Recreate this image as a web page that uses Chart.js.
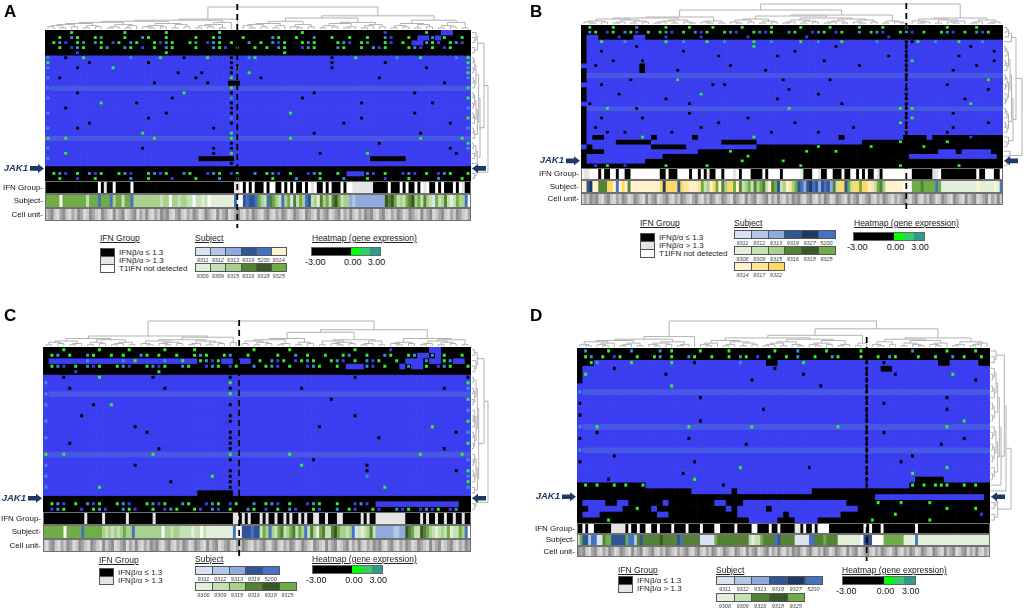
<!DOCTYPE html>
<html>
<head>
<meta charset="utf-8">
<script src="https://cdn.jsdelivr.net/npm/chart.js@4.4.0/dist/chart.umd.min.js"></script>
<style>
  body { margin: 0; width: 1026px; height: 610px; position: relative; overflow: hidden; background: #fff;
         font-family: Arial, "Liberation Sans", sans-serif; }
  .abs { position: absolute; white-space: nowrap; }
  .letter { font-size: 17px; font-weight: bold; color: #000; }
  .ttl { font-size: 8.5px; text-decoration: underline; color: #222; line-height: 10px; }
  .txt { font-size: 8px; color: #222; line-height: 8px; }
  .num { font-size: 5.5px; font-style: italic; color: #444; text-align: center; line-height: 6px; }
  .tick { font-size: 9px; color: #111; line-height: 10px; }
  .sw { border: 1px solid #555; box-sizing: border-box; }
</style>
</head>
<body>
<script>
// heatmap cells. full cells: k black, b blue, l blue stripe
// black cell with a speck: g green, c blue-green, t teal, u blue
// blue cell with a speck: x black, G green, C blue-green; stripe cell with a speck: L green, X black
const heatA = [
  "kkkkgkkkkkkk kgkkkkkkgkkk kkkkkgkkkkkk kkkkkkkgkkkk kkkkkkkkkukk kkkkgkkbbkkk",
  "kkgkcgkkgtkk kgkkcgkkgkkk kgkkgckkkgkk kkcgkkgkkckk gkkgkkgkkcuk kgkbbcbgkkgk",
  "kgcukgtkcgku gkcgkkgucgkk gtkucgkgkkck gkcugkkgcgkk kgcukgtkkguk gkbbcgukgcuk",
  "kkgkucgkkgck kcgkukgkcgkk kgkkcgukgkkg kgkcgkkucgkk kcgkkgkcugkk kgcukgkugkkk",
  "kkkkkukkkkkk kkkkkkkkgkkk kkkkkkkkkkkk kkkkgkkkkkkk kkkkkkkkkkkk kkkkkkkkkkkk",
  "CbbxbbGbbbbb bbCbbbbGbbbx bbbGbbbxbbCG bbbbbbbbbbbb xbbbGbbbbbbC bbbGbbbbbCbG",
  "Gbbbbbbxbbbb bbbbbxbbbbbb bbbbbbbxbbbb bbbbbbbbbbbb xbbbbbbbbxbb bbbbbbbbbbbG",
  "CbbbbxbbbbbG bbbbbbbbbbbb bbbbbbbxGbbb bbbbbbbbbbbb xbbbbbbbbbbb bbbbxbbbbbbC",
  "bbbbbbbbbbbb bbbbbbbbbbxb bbxbbbbxbbGb bbbbbbbbbbbb bbbbbbbbbbbb bbbbbbbbbbbG",
  "Cbxbbbbbbbbb bbbbbbbbbbbb bxbbbbbGbbbb xbbbbbbbbbbb bbbbbbbbxbbb bbbbbbbbbbbC",
  "bbbbbbbbbbbb bbbbbbxbbbbb bbbxbbbkkbbb bbbbbbbbbbbb bbbbbbbbbbbb bbbbbbbxbbbb",
  "Clllllllllll llllllllllll lllllllLllll llllllllllll llllllllllll lllllllllllL",
  "bbbbbxbbbbbb bbbbbbbbbbbG bbbbbbbxbbbb bbbbbbbbbxbb bbbbbbbbbbbb bbxbbbbbbbbb",
  "Cbbbbbbbbbbb bbbbbbbbbxbb bbbbbbbCbbbb bbbbbbbxbbbb bbbbbbbbbbbb bbbbbbbbbbbG",
  "bbbbbbbbbGbb bbbxbbbbbbbb bbbbbbbxbbbb bbbbbbbbbbbb bbbbbxbbbbbb bbbbbxbbbbbb",
  "bbbxbbbbbbbb bbbbbbbbbbbb bbbbbbbxbbbb bbbbbbbbbbbb bbbbbbbbbbbb bbbbbbbbbbbC",
  "Cbbbbbbbbbbb bbbbbbbbxbbb bbbbbbbxbbbb bbbbbGbbbbbb bbbbbbbbbbbb bbxbbbbbbbbb",
  "bbbbbbbbbbbb bbbbbxbbbbbb bbbbbbbCbbbb bbbbbbbbbbbb bbbbbxbbbbbb bbbbbbbbbbbG",
  "bbbbbbbxbbbb bbbbbbbbbbbb bbbbbbbxbbbb bbbbbbbbbbbb bbxbbbbbbbbb bbbbbbbbxbbb",
  "Cbbbbxbbbbbb bbbbbbbbbbbb bbbbxbbbbbbb bbbbbbbbbbbb bbbbbbbbbbbb bbbbbbbbbbbC",
  "bbbbbbbbbbbb bbbbGbbbbbbb bbbbbbbGbbbb bbbbbbbbbxbb bbbbbbbbbbbb bbbxbbbbbbbb",
  "LllLllllllll llllllLlllll lllllllLllll lllllLllllll llllllllllll lllLllllllLl",
  "bbbbbbbbbbbb bbbbbbbbbbbb bbbbbbbxbbbb bbbbbbbbbbbb bbbbbbbbxbbb bbbbbbbbbbbG",
  "Cbbbbbbbbbbb bbbbxbbbbbbb bbbbxbbxbbbb bbbbbbbbbbbb bbbbbbbbbbbb bbbbbbbbxbbC",
  "bbbGbbbbbbbb bbbbbbbbbbbb bbbbxbbGbbbb bbbbbbbbbbxb bbbbbbGbbbbb bbbbbbbbbxbb",
  "Cbbbbbbbbbbb bbbbbbbbbbbb bbkkkkkkbbbb bbbbbbbbbbbb bbbbbbbkkkkk kbbbbbbbbbbb",
  "bbbbbbbbbbbb bbbbbbbbbbbb bbbbbbbxbbbb bbbbbbbbbbbb bbbbbbbbbbbb bbbbbbbbbbbb",
  "kkkkkkkkkkkk kkkkkkkkkkkk kkkkkkkkkkkk kkkkkkkkkkkk kkkkkkkkkkkk kkkkkkkkkkkk",
  "kgcukgkcugkk gcukkgcugkkc gkkucgkugkkc kgcukgkkucgk kgkbbbcukgkk ucukgkucgkkg",
  "kkgkkukkgkkk kkckkgkkkukk kgkkkckkgkkk kkgkkkckkkgk kkckkkgkkukk kgkkkkckkkgk"
];
const heatB = [
  "kgkkkgkkkckk kkgkkkgkkkgk kkkgkkkkgkkk kgkkkkgkkkkg kkkgkkkgkkkk kkgkkkkgkkkk",
  "kcgkugkcgukg kgcukgkcugkk gcukkgcugkkc gkkucgkugkkc kgcukkgcukgk kgcukgkcugkk",
  "kbbkkkukkbbk kkukkkkkukkk kkkkukkkkkkk kkukkkkkkkkk kkkkukkkkkkk kkkkkkkkkkkk",
  "kbbGbbbCbbbb bbGbbCbbbGbb CbbbbGbbCbbb bGbbCbbbGbbb bbCbbbbxxGbb CbbbGbbbCbbb",
  "kbbbbbbbbxbb bbbbbbbbbbbb bbbbbGbbbbbb bbbbbbbxbbbb bbbbbbbxbbbb bbbbbbxbbbbb",
  "kbbxbbbbbbbb bbbbbxbbbbbb bbbbbbbbbbbb xbbbbbbbbbbb bbbbbbbxbbbb bbbbbbbbbbxb",
  "kbbbbbbbbbbb bbbbbbbbbbbx bbbbbbbbbxbb bbbbbbbbbbbb bbbbxbbxbbbb bbbbxbbbbbbb",
  "kbbbbxbbbbxb bbbbbbbbbbbb bbbbbbbbbbbb bbbbbxbbbbbb bbbbbbbxGbbb bbbbbbbbbbxb",
  "bbxbbbbbbbkb bbbbbbbbbbbb bxbbbbbbbbbb bbbbbbbbbbbx bbbbbbbxbbbb bbbbbbbxbbbb",
  "kbbbbbbbbbkb bbbbxbbbbbbb bbbbbbbxbbbb bbbbbbbbbbbb bbbbbbbxbbbb bbbxbbbbbbbb",
  "klllllllllll llllllllllll llllllllllll llllllllllll lllllllXllll llllllllllll",
  "kbbbbbbbxbbb bbbbGbbbbbbb bbbbbbbbbbxb bbbbbbxbbbbb bbbbbbbxbbbb bbbbbbbbbGbb",
  "bbbxbbbbbbbb bbbbbbbbbbxb xbbbbbbbbbbb bbbbbbbbbbbb bbbbbbbbbbbb bbxbbbbbbbbb",
  "kbbbbbbbbbbb bbbbbbbbbbbb bbbbbbbbbbbx bbbbbbbbbbbb bbbbbbbxbbbb bbbbbbbbbxbb",
  "kbbbbbxbbbbb bbbbbbbbGbbb bbbbbbbbbbbb bbbbxbbbbbbb bbbbbbbxbbbb bbbbbbbbbbbb",
  "kbbbbbbbbbbb bbxbbbbbbbbb bbbbbbbbbxbb bbbbbbbbbbbb bbbbbbbxbbbb bbbbbxbbbbbb",
  "bxbbbbbbbbbb bbbbbbxbbbbb bbbbbbbbbbbb bbbbbbbbxbbb bbbbbbbxbbbb bbbbbbGbbbbb",
  "klllLllllXll llllllllllll lllllllllllL llllllllllll llllllLXLlll llllllllllll",
  "kbbbbbbbbbbb bbbbbbxbbbbb bbbbbbbbbbbb bbbbbbbbbbbb bbbbbbbxbbbb bbbxbbbbbbbb",
  "kbbxbbbbbbxb bbbbbbbbbbbb bbbbxbbbbbbb bbbbbbbbbbbb bbbbbbbxGbbb bbbbbbbbbbbb",
  "kbbbbbbbbbbb bbbbbbbbbbbx bbbbbbbbbbbb xbbbbbbbbbbb bbbbbbGxbbbb bbbbbbbbbxbb",
  "kbxbbbbbbbbb bbbbbbbbxbbb bbbbbbbbbbbb bbbbbbbbbbxb bbbbbbbxbbbb bbbxbbbbbbbb",
  "kbbbxbbxbbbb bbbxbbbbbbbb bbbbbbbbxbbb bbbbxbbbbbbb bbbbbbbxbbbb bbxbbbbbbbbb",
  "kbkkbbbbbbGb kbbbbbbkbbbb bbbbbGbbbbbb bbbbbbbbkbbb bbbbbbbkkkkb kkkkkkukkkkk",
  "kbbbbbkkkkkk bbbbbbbbbbbb kkkkkkbbbbbb bbbbbbbbbbbb kkkkkkgkkkkk kkgkkkkkkkkk",
  "bkbbbbbbbbbb kkkkkkbbbbbb bbbbbbkkkkkk kkkkgkkkkkkk kgkkkkkkkkgk kkkkkkkkkkkk",
  "kkkkbbbbbbbb bbbbbbbbkkkk kgkkkkkkkkkk kkgkkkkgkkkk kkkkkkkkkkkk kbbbkbbbbbkk",
  "kbbbbbbbbbbb bbkkkkkkkkkk kkkkgkkkkkkk kkkkkkkkkkkk kkkkkkkkbbbb bbbbbbbbbbbk",
  "kbbbbbbbbbbk kkkkkkkkkkkk kkkgkkkkkkgk kkkkkkkkkkkk kkkkkkkkkkkk kkkkkkkkkkkk",
  "kkukgkkukkkk kkgkkkkkkgkk kkkkkkkkkkkk kgkkkkkkkkkk kkkkkkgkkkkk kkkkgkkkkkkk"
];
const heatC = [
  "kkkgkkkkkgkk kkgkkkkkgkkk kgkkkkkkkkkg kkkkkgkkkkkk kkkkgkkkkkuk kkkkkbbkkkkk",
  "kgckgkkcgkkg kgkkcgkgkkgk kgcgkkgckkgk kkkgkkckgkkg kkgckkgkkcgk kgcbbcbgkkgk",
  "kbbbbbbCbbbb bCbGbbbbCbbG bbgcugbbkbbk gkcugkugcgkk gcukgkcugkkg kbbbcbbgcbbk",
  "kgcukgkcugkk gcukkgcugkkc gkkucgkugkkc kgcukgkkucgk kgkbbbcukgkk bcbbgkucgkkg",
  "kkkkkukkkkkk kkkkkkkgkkkk kkkkkkkkkkkk kkkkkkkkkkkk kkkkkkkkkkkk kkkkkkkkkkkk",
  "bbbxbbbbbGbb bbbbbbxbbbbb bbbbbbbxbbbb bbbbbbbbbbbb bbbbxbbbbbbb bbbbbbbbbbbx",
  "Cbbbbbbbbbbb bbbbbbbbbbbb bbbbbbbGbbbb bbbbbbbbbbbb bbbbbbbbbbbb bbbbbbbbbbbG",
  "bbbbxbbbbbbb bbbbbbbbxbbb bbbbbbbxbbbb bbbbbbbxbbbb bbbbbbbbbbbb bbbbbbbxbbbC",
  "Clllllllllll llllllllllll lllllllLllll llllllllllll llllllllllll llllllllllll",
  "bbbbbbbbbbbb bbbbbbbbbbbb bbbbbbbbbbbb bbbbbbbbbbbb xbbbbbbbbbbb bbbbbbbbbbbG",
  "CbbbbbbbxbbG bbbbbbbbbbbb bbbbbbbxbbbb bbbbbbbbbbbb bbbbbbbbbbbb bbbbbbbbbbbb",
  "bbbbbbbbbbbb bbbbbbbbbbbb bbbbbbbbbbbb bbbbbbbbbbbb bbbbbbbbbbbb bbbbbbbbbbbC",
  "bbbbbbxbbbbb bbbbbbbbbbbb bbbbbbbxbbbb bbbbbbbbbbbb bbbbxbbbbbbb bbbbbbbbbbbb",
  "Cbbbbbbbbbbb bbbbbbbbbbbb bbbbbbbxbbbb bbbbbbbbbbbb bbbbbbbbbbbb bbbbbbbbbbbG",
  "bbbbbbbbbbbb bbbxbbbbbbbb bbbbbbbbbbbb bbbbbbbbbbxb bbbbbbbbbbbb bbbbbGbbbbbb",
  "bbbbbbbbbbbb bbbbbxbbbbbb bbbbbbbxbbbb bbbbbbbbbbbb bbbbbbbbbbbb bbbbbbbbbxbC",
  "Cbbbbbbbbbbb bbbbbbbbbbbb bbbbbbbxbbbb bbbbbbbbbbbb bbbbbbbbxbbb bbbbbbbbbbbb",
  "bbbbxbbbbbbb bbbbbbbbbbbb bbbbbbbxbbbb bbbbbbbbbbbb bbbbbbbbbbbb bbbbbbbbbbbG",
  "bbbbbbbbbbbb bbbbbbbxbbbb bbbbbbbxbbbb bbbbbbbbbbbb bbbbbbbbbbbb bbbbbbbxbbbb",
  "LllLllllllll llllllLlllll lllllllLllll lllllLllllll llllllllllll lllLllllllLl",
  "bbbbbbbbbbbb bbbbbbbbbbbb bbbbbbbxbbbb bbbbbbbbbxbb bbbbbbbbbbbb bbbbbbbbbbbC",
  "Cbbbbbbbbbbb bbbxbbbbbbbb bbbbbbbbbbbb bbbbbbbGbbbb bbbbbbxbbbbb bbbbbbbbbbbb",
  "bbbbbbbbbbbb bbbbbbbbbbbb bbbbbbbxbbbb bbbbbbbbbbbb bbbbbbxbbbbb bbbbbbbbbxbG",
  "Cbbbbbbbbbbb bbbbbbbbbbbb bbbbGbbxbbbb bbbbbbbbbbbb bbbbbbCbbbbb bbbbbbbbbbbC",
  "bbbbbbbbbbbb bbbbbbbbbxbb bbbbbbbxbbbb bbbbbbbbbbbb bbbbbbbbbbbb bbbbbbbbbbbG",
  "CbbbbbbbbGbb bbbbbbbbbbbb bbbbbbbxbbbb bbbbbbbbbbbb bbbbbbbbbGbb bbbbbbbbbbbC",
  "bbbbbbbbbbbb bbbbbbbbbbbb bbkkkkkkbbbb bbbbbbbbbbbb bbbbbbbbbbbb bbbbbbbbbbbb",
  "kkkkkkkkkkkk kkkkkkkkkkkk kkkkkkkkkkkk kkkkkkkkkkkk kkkkkkkkkkkk kkkkkkkkkkkk",
  "kgcukgkcugkk gcukkgcugkkc gkkucgkugkkc kgcukgkkucgk kgkkucukbbbb bbbbbbbbbbkk",
  "kucgkkukgcuk kcgukkgkucgk kgukcukgkkcg kukgkcukkguk kckgukkgukkc ugkucugkuckk"
];
const heatD = [
  "kckkkgkkkckk kkckgkkkkgkk kkgkkkkkkkgk kkckkkkgkkkk kgkkkkkkkkck kkkkgkkkkgkk",
  "kgckgkugkkgk kgckgkkcgkkg kkgkcgkukgkk gkckkgkkcgkk kgkkgkcgkkkg kkgkkckgkkgk",
  "kkgCbbbbbGbb bbbbGbbbxbbb bbbbCbbbbkkb bbbGbbbbbbbb bbxbbxbbbbbb bbbkkbbbbbkk",
  "kbbbbbxbbbbb bbbbbbbbbbbb bbbbbbbbbbxb bbbbbbbbbbbb bbxbbkkbbbbb bbbbbbbbbbbb",
  "kGbbbbbbbbbb bbbxbbbbbbbb bbbbbbbbbbbb bbbxbbbbbbbb bbxbbbbxbbbb bbbbbGbbbbbb",
  "kbbbbbbbbbbb bbbbbbbbbbbb bbbbbbxbbbbb bbbbbbbbbbbb bbxbbbbbbbbb bbbbbbbbbxbb",
  "bbbbbbbbbbbb bbbbGbbbbbbb bbbbbbbbbbbb bbbbbbxbbbbb bbxbbbbbbbbb bbbbbbbbbbbb",
  "Clllllllllll llllllllllll llllllllllll llllllllllll llXlllllllll llllllllllll",
  "bbbbbbbbbbbb bbbbbbbbbxbb bbbbbbbbbbbb bbbbbbbbbbbb bbxbbbbbbbbb bbbbxbbbbbbb",
  "xbbbbbbbbbbb bbbbbbbbbbbb bbbbbbbbbbbb bbbbbbbbbbbb bbxbbxbbbbbb bbbbbbbbbbbb",
  "bbbbbbbbbbbb bbbbbbbbbbbb bbbbbbbbxbbb bbbbbbbbbbbb bbxbbbbbbbbb bbbbxbbbbbbb",
  "xbbbbbbbbbbb bbbbbbbbbbbb bbbbbbbbbbbb bbbbbbbbbbbb bbxbbbbbbbbb bbbbbbbbbbbb",
  "bbbbbbbbbbbb bbbbbbbbbxbb bbbbbbbbbbbb bbbbbbbbbbbb bbxbbbbbbbbb bbbbbbbGbbbb",
  "CllLllllllll lllllllLllll llllllLlllll lllllllllLll llXlllllllll llllLlllllll",
  "bbbxbbbbbbbb bbbbbbbbbbbb bbbbbbbbbbbb bbbbbbbbbbbb bbxbbxbbbbbb bbbbbbbbbbbb",
  "xbbbbbbbbbbb bbbbbbbxbbbb bbbbbbbbbbbb bbbbbbbbbbbb bbxbbbbbbbbb bbbbbbbxbbbb",
  "bbbbbbbbbbbb bbbbbbbbbbbb bbbbbxbbbbbb bbbbbbbbbbbb bbxbbbbbbbbb bbbxbbbbbbbb",
  "Clllllllllll llllllllllll llllllllllll llllllllllll llXlllllllll llllllllllll",
  "bbbbbbxbbbbb bbbbbbbbbbbb bbbbbbbbbbbb bbbbbbbbbbbb bbxbbbbbbbxb bbbbbbbbbbbb",
  "xbbbbbbbbbbb bbbbbbbbxbbb bbbbbbbbbbbb bbbbbbbbbbbb bbxbbbbbxbbb bbbbbbbbbbbb",
  "bbbbbbbbbbbb bbbbbbbbbbbb bbbbGbbbbbbb bbbbxbbbbbbb bbxbbbbbbbbb bbbbGbbbbbbb",
  "bbbbbbbbbbbb bbbbbbxbbbbb bbbbbbbbbbbb bbbbbbbbbbbb bbxbbbbbbbGb bbbbbbbbbbbb",
  "bbbbbxbbbbbb bbbbbbbbGbbb bbbbbbbbbbbb bbbbbbbbbbbb bbxbbbbbbbbk kkkkbbbbbbbb",
  "kgkgkkgkgkkg bbbbbbbbbbbb bxbbbbbbbbbb bbbbbbbbbbbb bbxbbbbbbbgk gkgggkkgkgkk",
  "kkkkkkkkkkkk kkkkkkkkbbbb bbbkbbbbbbbb bbbbbkkkkkkk kkkkkkkkkkkk kkkkkkkkkkkk",
  "kkkkkkkkkkkk kkkkkkkkkkkk kkkkkkkkkkkk kkkkkkkkkkkk kkkkbbbbbbbb bbbbbbbbbbbk",
  "kbbbbkkbbkkk kkkbkkkkkkkk bbkkkbbbbbbb bbbbbbbbbbbk kkkkgkkkgkkk kgkkkkkkkkkk",
  "kkbbbbbbkkgk kbkkkkkkkkkk kkbkbbbbbkbb bbbbbbbbbbbb bkkkkkkkkkkk kkkkgkkkkgkk",
  "kbbbkkkkkkkk kkbbkkkkkkkk kkkkbbbbbbbb kbbbbbbbbbkk kkkkkkkgkkkk kkkkkkkkkkuk",
  "kkkkkgkkkkkk kkkkkkkkkkkk kkkkkkbbbbbk kkbbbbkkkkkk kkkgkkkkkkkk kgkkkkkkkkkk"
];

// annotation rows: IFN group (k / l / w), subject (letter code), cell unit (grey shade)
const ifnA  = "kkkkkkkkkkkk kkkkkkwklkkw kkkkkwkkkkkk kkkkkkkkkkkk kkkkkkkkkkkk kkkkllwkwkwk kkwkwwkkwkwk wkkwkwlwkkwk wkkkwkwwllll lllkkkkkwkkk wkwkkwkwlwkk wkwkkkwkwlkk";
const subjA = "pppppwpppppp pphpppepppei pphppeiiiiii iiihiiwiihii hhwhhfhwffff ffffewwdedde pihejpiheipa jhpiedhifjip hjmphiicbccc cccccccmjmph ihpjmiphjiha phijhfhpiiew";
const cellA = "213241324123 142312431243 213421341232 412313241324 123142312432 134213241231 241324123142 312431243213 421341232412 313241324123 142312432134 213241231241";
const ifnB  = "wllwwwkwkkww kwwkkwwwwwww wwwkkwkkkwww wkwwkwklkkww kwwwlwkwwwkk kkwkwwwwkwww wwwlkkkwwlkk wwkkkwkkwwkw kwkkwlkwwwww wwwwwkkkkkkk llwkkkkkkkkk kkkwkkwwwkkw";
const subjB = "yydnyyjjjrry eyryjyyyyyyy yyyrnrrrrdrq qyyyqphiyrpy jirrpyjhiphj ipjhyjpdhiyq ipdecdnedcde dcjhrrdphrrp rryqhpjiyyyy yywwwpppjppp pepfffffffff fffyfffffyfe";
const cellB = "412313241324 123142312432 134213241231 241324123142 312431243213 421341232412 313241324123 142312432134 213241231241 213241324123 142312431243 213421341232";
const ifnC  = "kkkkkkkkkkkk kklkkkkklkkk kkkklkkkkkkk klkkkkkkkkkk kkkkkkkkkkkk kkkkllklklkk klklkklkklkl kklklkkllkkl kkkllkkkkkkl klkkllllllll llkkkkklklkk lkklkklkklkk";
const subjC = "pppppppwpppp peppppppihih ihipiieiiiii iiiiwiihiihh hhfhhwhfffff ffffewwddded dhpieihpjhip jhpiehjifpjh hjmpiihieahf hijhccccccbb ccmjphhmjpih fhihpfhhpiew";
const cellC = "241324123142 312431243213 421341232412 313241324123 142312432134 213241231241 213241324123 142312431243 213421341232 412313241324 123142312432 134213241231";
const ifnD  = "kkwkwwkkkkkk lllllkwkkwkk wwkkwkkkkwkk kkwkkkkwkkkk wwkkkkkwkkkk kwwkkkkwkkwk kkkkllkwkkwk wwwwkkkkkkkk kkkkwkwkkkwk kkkkkkkkkkwk kkkkkkkkkkkk kkkkkkkkkkkk";
const subjD = "apddbeeaajpp dddddpeebjdj jjjjjmjjjjjd ejjjjjjaaaaa pjjjjjjjjjjj hfhhpjjjjedj jjjjaaaaaeej jjpjjjjfffff fffwdndwwwwp ppppppffffef ffffffffffff ffffffffffff";
const cellD = "313241324123 142312432134 213241231241 213241324123 142312431243 213421341232 412313241324 123142312432 134213241231 241324123142 312431243213 421341232412";

// dendrogram merge heights between neighbouring columns / rows
const colGapsA = [2,3,1,4,2,5,1,3,2,6, 1,2,4,1,3,7,2,1,3,2, 5,1,4,2,8,1,3,2,4,1, 6,9, 20, 3,1,4,2,5,1,3,7,2,1, 4,2,10,1,3,2,5,1,2,6, 1,3,4,2,12,1,3,2,5,1, 4,2,8,1,3,2,6,1];
const colGapsB = [2,1,3,2,5,1,2,4,1,3, 2,6,1,2,3,1,4,2,1,7, 2,1,3,1,14,2,1,4,2,5, 1,3,2,8,1,2,4,1,3,2, 6,1,2,3,1,5,2,1,4,2, 9,1,3,2,1, 20, 3,1,2,5,1,4,2,1,3,6, 1,2,4,1,2];
const colGapsC = [1,3,2,4,1,2,6,1,3,2, 5,1,2,3,1,8,2,1,4,2, 1,3,2,5,1,2,4,1,3,2, 7,3, 20, 2,4,1,3,2,5,1,2,6,1, 3,2,11,1,4,2,1,3,2,5, 1,2,4,1,13,2,1,3,2,6, 1,2,4,1,3,2,5,1];
const colGapsD = [2,1,4,2,1,3,5,1,2,3, 1,6,2,1,3,2,4,1,2,8, 20, 2,1,3,5,1,2,4,1,3,2, 7,1,2,3,1,4,2,1,6,2, 1,3,2,5,1,2,9,1,3, 14, 2,1,4,2,6,1,3,2,1,5, 2,1,3,7,1,2,4,1,2,3];
const rowGapsA = [3,2,4,2,9,1,2,1,3,1, 2,5,1,2,1,3,1,2,4,1, 2,6,1,3,2,4,12,3,2];
const rowGapsB = [2,3,5,8,1,2,3,1,2,4, 1,2,1,3,2,1,5,1,2,3, 1,2,6,3,2,12,4,3,2];
const rowGapsC = [2,4,3,2,9,1,3,1,2,1, 4,2,1,2,3,1,2,1,5,2, 1,3,1,2,4,2,12,3,2];
const rowGapsD = [3,2,8,2,1,3,1,2,4,1, 2,1,5,2,1,3,1,2,1,4, 2,1,6,9,12,3,2,4,2];

const jakLabel = "JAK1";
const jakRowA = 27, jakRowB = 28, jakRowC = 27, jakRowD = 25;
const splitA = 65, splitB = 111, splitC = 66, splitD = 101;   // first cell of right-hand cluster
const annNames = ["IFN Group-", "Subject-", "Cell unit-"];

const ifnLegend3 = [["k", "IFNβ/α ≤ 1.3"], ["l", "IFNβ/α > 1.3"], ["w", "T1IFN not detected"]];
const ifnLegend2 = [["k", "IFNβ/α ≤ 1.3"], ["l", "IFNβ/α > 1.3"]];
const subjLegendA = [["9311","9312","9313","9319","5200","9314"], ["9306","9309","9315","9316","9318","9325"]];
const subjLegendB = [["9311","9312","9313","9319","9327","5200"], ["9306","9309","9315","9316","9318","9325"], ["9314","9317","9322"]];
const subjLegendC = [["9311","9312","9313","9319","5200"], ["9306","9309","9315","9316","9318","9325"]];
const subjLegendD = [["9311","9312","9313","9319","9327","5200"], ["9306","9309","9316","9318","9325"]];
const heatTicks = ["-3.00", "0.00", "3.00"];

// colours
const BLUE = "#3b3ef0", STRIPE = "#4658e4", GREEN = "#33ee33", CYAN = "#3a90d2", TEAL = "#2a9d80";
const cellCodes = {
  k: ["#000000", null], b: [BLUE, null], l: [STRIPE, null],
  g: ["#000000", GREEN], c: ["#000000", CYAN], t: ["#000000", TEAL], u: ["#000000", BLUE],
  x: [BLUE, "#000000"], G: [BLUE, GREEN], C: [BLUE, CYAN], L: [STRIPE, GREEN], X: [STRIPE, "#000000"]
};
const ifnColors = { k: "#000000", l: "#e4e4e4", w: "#ffffff" };
const subjCode = { a: "9311", b: "9312", c: "9313", d: "9319", n: "9327", e: "5200", y: "9314", q: "9317", r: "9322",
                   f: "9306", h: "9309", i: "9315", j: "9316", m: "9318", p: "9325" };
const subjColors = { "9311": "#dae3f3", "9312": "#b4c7e7", "9313": "#8faadc", "9319": "#2f5597", "9327": "#203864",
                     "5200": "#4472c4", "9314": "#fff2cc", "9317": "#ffe699", "9322": "#ffd966", "9306": "#e2f0d9",
                     "9309": "#c5e0b4", "9315": "#a9d18e", "9316": "#548235", "9318": "#385723", "9325": "#70ad47" };
const cellColors = { "1": "#a8a8a8", "2": "#c9c9c9", "3": "#8e8e8e", "4": "#dadada" };
const heatLegendColors = [["#000000", 0.57], ["#00ff00", 0.14], ["#33cc66", 0.14], ["#2e9c8a", 0.15]];

Chart.defaults.font.family = 'Arial, "Liberation Sans", sans-serif';

function tree(ctx, gaps, lo, hi, pos, lev, vertical) {
  if (lo === hi) return { p: pos(lo), h: 0 };
  let m = lo;
  for (let i = lo; i < hi; i++) if (gaps[i] > gaps[m]) m = i;
  const L = tree(ctx, gaps, lo, m, pos, lev, vertical);
  const R = tree(ctx, gaps, m + 1, hi, pos, lev, vertical);
  const h = gaps[m];
  ctx.beginPath();
  if (!vertical) {
    ctx.moveTo(L.p, lev(L.h)); ctx.lineTo(L.p, lev(h)); ctx.lineTo(R.p, lev(h)); ctx.lineTo(R.p, lev(R.h));
  } else {
    ctx.moveTo(lev(L.h), L.p); ctx.lineTo(lev(h), L.p); ctx.lineTo(lev(h), R.p); ctx.lineTo(lev(R.h), R.p);
  }
  ctx.stroke();
  return { p: (L.p + R.p) / 2, h: h };
}

function arrow(ctx, xTip, y, dir) {
  const x0 = xTip - dir * 14, xh = xTip - dir * 6;
  ctx.beginPath();
  ctx.moveTo(x0, y - 2.3); ctx.lineTo(xh, y - 2.3); ctx.lineTo(xh, y - 4.5); ctx.lineTo(xTip, y);
  ctx.lineTo(xh, y + 4.5); ctx.lineTo(xh, y + 2.3); ctx.lineTo(x0, y + 2.3);
  ctx.closePath(); ctx.fill();
}

// dendrograms, split line, JAK1 markers and strip borders
const deco = {
  id: 'deco',
  afterDraw(chart, args, o) {
    const ctx = chart.ctx, a = chart.chartArea;
    const sx = chart.scales.x, sx2 = chart.scales.x2, sy = chart.scales.y;
    ctx.save();
    ctx.strokeStyle = '#707070'; ctx.lineWidth = 1;
    for (let k = 0; k < 3; k++) {
      const y0 = Math.round(sy.getPixelForValue(o.rows + k * o.annU));
      const y1 = Math.round(sy.getPixelForValue(o.rows + (k + 1) * o.annU));
      ctx.strokeRect(a.left + 0.5, y0 + 0.5, a.right - a.left - 1, y1 - y0 - 1);
    }
    ctx.strokeStyle = '#b2b2b2'; ctx.lineWidth = 1;
    const gmax = Math.max(...o.colGaps);
    tree(ctx, o.colGaps, 0, o.colGaps.length, i => sx.getPixelForValue(i),
         h => a.top - 1 - h / gmax * o.dendH, false);
    const rmax = Math.max(...o.rowGaps);
    tree(ctx, o.rowGaps, 0, o.rowGaps.length, i => sy.getPixelForValue(i + 0.5),
         h => a.right + 1 + h / rmax * o.dendW, true);

    const xs = (sx2.getPixelForValue(o.split - 1) + sx2.getPixelForValue(o.split)) / 2;
    ctx.strokeStyle = '#000'; ctx.lineWidth = 1.8; ctx.setLineDash([6, 4]);
    ctx.beginPath(); ctx.moveTo(xs, o.dash[0]); ctx.lineTo(xs, o.dash[1]); ctx.stroke();
    ctx.setLineDash([]);

    const yj = sy.getPixelForValue(o.jak + 0.5);
    ctx.fillStyle = '#1f3864';
    arrow(ctx, a.left - 1, yj, 1);
    arrow(ctx, a.right + 1, yj, -1);
    ctx.font = 'italic bold 9.5px Arial, "Liberation Sans", sans-serif';
    ctx.textAlign = 'right'; ctx.textBaseline = 'middle';
    ctx.fillText(jakLabel, a.left - 17, yj);
    ctx.restore();
  }
};

function addDiv(cls, css, text) {
  const d = document.createElement('div');
  d.className = 'abs ' + cls;
  d.style.cssText = css;
  if (text) d.textContent = text;
  document.body.appendChild(d);
  return d;
}

function makePanel(p) {
  const wrap = document.createElement('div');
  wrap.style.cssText = `position:absolute;left:${p.box[0]}px;top:${p.box[1]}px;width:${p.box[2]}px;height:${p.box[3]}px`;
  const cv = document.createElement('canvas');
  wrap.appendChild(cv);
  document.body.appendChild(wrap);

  const heat = p.heat.map(r => r.replace(/ /g, ''));
  const ann = [p.ifn, p.subj, p.cell].map(r => r.replace(/ /g, ''));
  const R = heat.length;
  const heatPx = p.area.bottom - p.annPx - p.area.top;
  const annU = (p.annPx / 3) / (heatPx / R);
  const annColor = [ch => ifnColors[ch], ch => subjColors[subjCode[ch]] || '#ffffff', ch => cellColors[ch]];

  const datasets = [];
  heat.forEach((row, r) => {
    datasets.push({
      xAxisID: 'x', order: 1, data: Array.from(row, () => [r, r + 1]),
      backgroundColor: Array.from(row, ch => cellCodes[ch][0])
    });
    datasets.push({
      xAxisID: 'x', order: 0, barPercentage: 0.5,
      data: Array.from(row, ch => cellCodes[ch][1] ? [r + 0.22, r + 0.78] : null),
      backgroundColor: Array.from(row, ch => cellCodes[ch][1] || 'rgba(0,0,0,0)')
    });
  });
  ann.forEach((row, k) => datasets.push({
    xAxisID: 'x2', order: 1, data: Array.from(row, () => [R + k * annU, R + (k + 1) * annU]),
    backgroundColor: Array.from(row, annColor[k])
  }));

  new Chart(cv, {
    type: 'bar',
    data: { datasets: datasets },
    options: {
      responsive: true, maintainAspectRatio: false, animation: false, events: [],
      layout: { padding: {
        left: 0, right: p.box[2] - (p.area.right - p.box[0]),
        top: p.area.top - p.box[1], bottom: p.box[3] - (p.area.bottom - p.box[1]) } },
      datasets: { bar: { barPercentage: 1, categoryPercentage: 1, grouped: false, borderWidth: 0 } },
      plugins: {
        legend: { display: false }, tooltip: { enabled: false },
        deco: { rows: R, annU: annU, colGaps: p.colGaps, rowGaps: p.rowGaps, split: p.split, jak: p.jak,
                dendH: p.dendH, dendW: p.dendW, dash: [p.dash[0] - p.box[1], p.dash[1] - p.box[1]] }
      },
      scales: {
        x: { type: 'category', labels: Array.from(heat[0], (_, i) => String(i)), display: false, offset: true },
        x2: { type: 'category', labels: Array.from(ann[0], (_, i) => String(i)), display: false, offset: true },
        y: {
          type: 'linear', reverse: true, min: 0, max: R + 3 * annU,
          grid: { display: false, drawTicks: false }, border: { display: false },
          afterBuildTicks: s => { s.ticks = [0, 1, 2].map(k => ({ value: R + (k + 0.5) * annU })); },
          afterFit: s => { s.width = p.area.left - p.box[0]; },
          ticks: { autoSkip: false, padding: 2, color: '#111', font: { size: 8 },
                   callback: (v, i) => annNames[i] }
        }
      }
    },
    plugins: [deco]
  });

  // legends
  addDiv('letter', `left:${p.letter[0]}px;top:${p.letter[1]}px`, p.name);
  const L = p.legend;
  addDiv('ttl', `left:${L.ifn[0]}px;top:${L.ifn[1]}px`, 'IFN Group');
  L.ifnItems.forEach((it, i) => {
    const y = L.ifn[2] + i * 8;
    addDiv('sw', `left:${L.ifn[0]}px;top:${y}px;width:15px;height:9px;background:${ifnColors[it[0]]}`);
    addDiv('txt', `left:${L.ifn[0] + 19}px;top:${y + 1}px`, it[1]);
  });
  addDiv('ttl', `left:${L.subj[0]}px;top:${L.subj[1]}px`, 'Subject');
  L.subjRows.forEach((row, r) => {
    row.forEach((id, i) => {
      const x = L.subj[0] + i * L.subjW, y = L.subjY[r];
      addDiv('sw', `left:${x}px;top:${y}px;width:${L.subjW + 1}px;height:9px;background:${subjColors[id]}`);
      addDiv('num', `left:${x}px;top:${y + 10}px;width:${L.subjW}px`, id);
    });
  });
  addDiv('ttl', `left:${L.heat[0]}px;top:${L.heat[1]}px`, 'Heatmap (gene expression)');
  const bar = addDiv('sw', `left:${L.bar[0]}px;top:${L.bar[1]}px;width:${L.bar[2]}px;height:9px;display:flex;border-color:#666`);
  heatLegendColors.forEach(c => {
    const s = document.createElement('div');
    s.style.cssText = `flex:${c[1]};background:${c[0]}`;
    bar.appendChild(s);
  });
  [-6, 0.47 * L.bar[2], 0.81 * L.bar[2]].forEach((dx, i) =>
    addDiv('tick', `left:${L.bar[0] + dx}px;top:${L.bar[1] + 10}px`, heatTicks[i]));
}

const panels = [
  { name: 'A', letter: [4, 2], box: [0, 0, 510, 232], area: { left: 45, right: 471, top: 30, bottom: 221 }, annPx: 40,
    heat: heatA, ifn: ifnA, subj: subjA, cell: cellA, colGaps: colGapsA, rowGaps: rowGapsA,
    split: splitA, jak: jakRowA, dendH: 22, dendW: 16, dash: [4, 228],
    legend: { ifn: [100, 233, 248], ifnItems: ifnLegend3, subj: [195, 233], subjY: [247, 263], subjW: 15.2,
              subjRows: subjLegendA, heat: [312, 233], bar: [311, 247, 70] } },
  { name: 'B', letter: [530, 2], box: [513, 0, 513, 215], area: { left: 581, right: 1003, top: 25, bottom: 205 }, annPx: 37,
    heat: heatB, ifn: ifnB, subj: subjB, cell: cellB, colGaps: colGapsB, rowGaps: rowGapsB,
    split: splitB, jak: jakRowB, dendH: 20, dendW: 18, dash: [3, 213],
    legend: { ifn: [640, 218, 233], ifnItems: ifnLegend3, subj: [734, 218], subjY: [230, 246, 262], subjW: 16.8,
              subjRows: subjLegendB, heat: [854, 218], bar: [853, 232, 72] } },
  { name: 'C', letter: [4, 306], box: [0, 305, 510, 262], area: { left: 43, right: 471, top: 347, bottom: 552 }, annPx: 40,
    heat: heatC, ifn: ifnC, subj: subjC, cell: cellC, colGaps: colGapsC, rowGaps: rowGapsC,
    split: splitC, jak: jakRowC, dendH: 25, dendW: 16, dash: [320, 557],
    legend: { ifn: [99, 555, 568], ifnItems: ifnLegend2, subj: [195, 554], subjY: [566, 582], subjW: 16.8,
              subjRows: subjLegendC, heat: [312, 554], bar: [312, 565, 71] } },
  { name: 'D', letter: [530, 306], box: [513, 305, 513, 262], area: { left: 577, right: 990, top: 348, bottom: 557 }, annPx: 34,
    heat: heatD, ifn: ifnD, subj: subjD, cell: cellD, colGaps: colGapsD, rowGaps: rowGapsD,
    split: splitD, jak: jakRowD, dendH: 26, dendW: 20, dash: [337, 561],
    legend: { ifn: [618, 565, 576], ifnItems: ifnLegend2, subj: [716, 565], subjY: [576, 593], subjW: 17.7,
              subjRows: subjLegendD, heat: [842, 565], bar: [842, 576, 74] } }
];

panels.forEach(makePanel);
</script>
</body>
</html>
